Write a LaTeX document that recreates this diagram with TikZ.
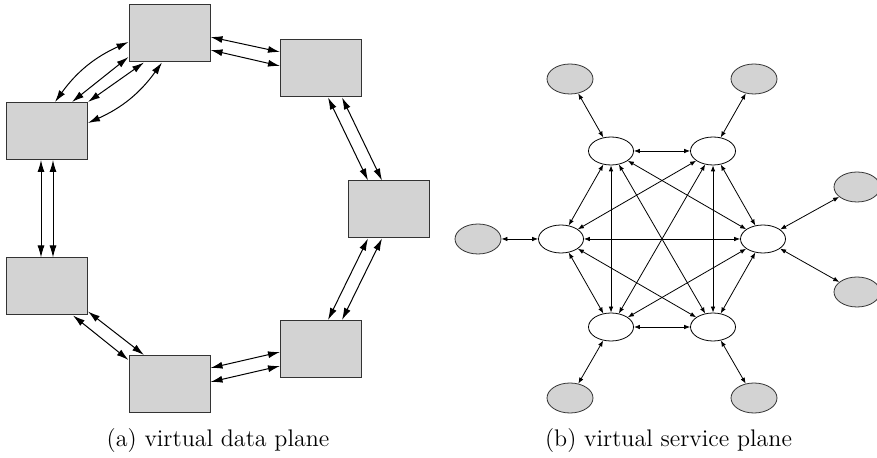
\documentclass[tikz,border=0pt]{standalone}
\usetikzlibrary{arrows.meta,calc,shapes.geometric}
\definecolor{boxgray}{RGB}{211,211,211}
\begin{document}
\begin{tikzpicture}[x=0.5pt,y=-0.5pt,
  box/.style={draw=black!80, fill=boxgray, line width=0.5pt, minimum width=40.5pt, minimum height=28.5pt, inner sep=0pt},
  inell/.style={ellipse, draw=black, fill=white, line width=0.4pt, minimum width=22.5pt, minimum height=14pt, inner sep=0pt},
  outell/.style={ellipse, draw=black!80, fill=boxgray, line width=0.4pt, minimum width=23pt, minimum height=15pt, inner sep=0pt},
  la/.style={{Latex[length=6pt,width=3.5pt]}-{Latex[length=6pt,width=3.5pt]}, line width=0.5pt},
  ra/.style={{Latex[length=3pt,width=2.3pt]}-{Latex[length=3pt,width=2.3pt]}, line width=0.4pt},
  captext/.style={font=\fontsize{12}{14}\selectfont, anchor=base}
]
\useasboundingbox (0,0) rectangle (877,458);
% left: virtual data plane
\node[box] (A) at (169.5,33.5) {};
\node[box] (B) at (321,68.5) {};
\node[box] (C) at (389,209.5) {};
\node[box] (D) at (47,131) {};
\node[box] (E) at (47,286.5) {};
\node[box] (F) at (169.5,384) {};
\node[box] (G) at (321,349) {};
\draw[la] ($(A.east)+(0,3.5)$) -- ($(B.west)+(0,-16.5)$);
\draw[la] ($(A.east)+(0,16.5)$) -- ($(B.west)+(0,-2.5)$);
\draw[la] ($(A.west)+(0,8.5)$) to[bend right=15] ($(D.north)+(8,0)$);
\draw[la] ($(A.west)+(0,23.5)$) -- ($(D.north)+(25,0)$);
\draw[la] ($(A.south)+(-25.5,0)$) -- (D.north east);
\draw[la] ($(A.south)+(-7.5,0)$) to[bend left=15] ($(D.east)+(0,-8)$);
\draw[la] ($(B.south)+(7,0)$) -- ($(C.north)+(-21,0)$);
\draw[la] ($(B.south)+(21,0)$) -- ($(C.north)+(-7,0)$);
\draw[la] ($(D.south)+(-6,0)$) -- ($(E.north)+(-6,0)$);
\draw[la] ($(D.south)+(6,0)$) -- ($(E.north)+(6,0)$);
\draw[la] ($(C.south)+(-21,0)$) -- ($(G.north)+(7,0)$);
\draw[la] ($(C.south)+(-7,0)$) -- ($(G.north)+(21,0)$);
\draw[la] ($(E.south)+(26,0)$) -- ($(F.west)+(0,-24)$);
\draw[la] ($(E.east)+(0,25)$) -- ($(F.north)+(-25.5,0)$);
\draw[la] ($(F.east)+(0,-16)$) -- ($(G.west)+(0,3)$);
\draw[la] ($(F.east)+(0,-2)$) -- ($(G.west)+(0,17)$);
\node[captext] (capa) at (218,446) {(a) virtual data plane};
% right: virtual service plane
\node[inell] (I1) at (611,151) {};
\node[inell] (I2) at (713,151) {};
\node[inell] (I3) at (763,239) {};
\node[inell] (I4) at (713,327) {};
\node[inell] (I5) at (611,327) {};
\node[inell] (I6) at (561,239) {};
\node[outell] (O1) at (570,79) {};
\node[outell] (O2) at (754,79) {};
\node[outell] (O3) at (857,187) {};
\node[outell] (O4) at (857,292) {};
\node[outell] (O5) at (754,398) {};
\node[outell] (O6) at (570,398) {};
\node[outell] (O7) at (478,239) {};
\foreach \a/\b in {I1/I2,I1/I3,I1/I4,I1/I5,I1/I6,I2/I3,I2/I4,I2/I5,I2/I6,I3/I4,I3/I5,I3/I6,I4/I5,I4/I6,I5/I6,O1/I1,O2/I2,O3/I3,O4/I3,O5/I4,O6/I5,O7/I6}
  \draw[ra] (\a) -- (\b);
\node[captext] (capb) at (668.5,446) {(b) virtual service plane};
\end{tikzpicture}
\end{document}
